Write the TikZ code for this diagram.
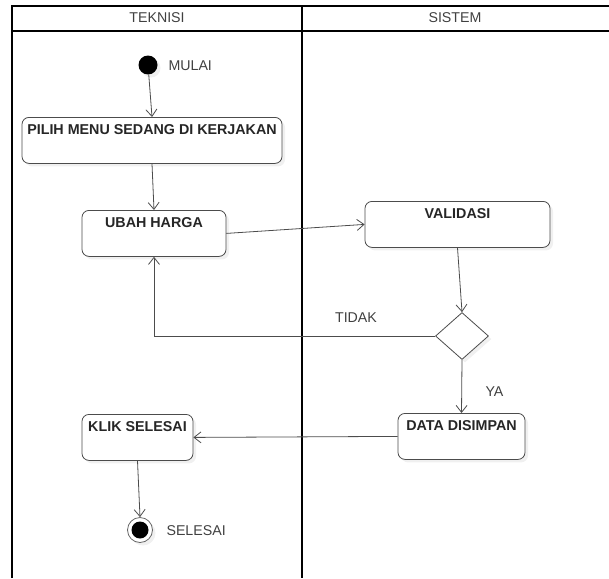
\documentclass[tikz,border=0pt]{standalone}
\usepackage{fontspec}
\setmainfont{Liberation Sans}
\usetikzlibrary{arrows.meta,shapes.geometric,shadows}
\tikzset{
  lane/.style={line width=1.8pt,black},
  actbox/.style={draw=black!70,fill=white,rounded corners=7pt,line width=0.8pt,
    font=\fontsize{14.3}{15}\selectfont\bfseries,text=black!85,
    inner xsep=2pt,inner ysep=5pt,text height=12pt,text depth=24pt,
    drop shadow={opacity=0.12,shadow xshift=3pt,shadow yshift=-3pt}},
  lbl/.style={font=\fontsize{14.2}{15}\selectfont,text=black!75},
  flow/.style={draw=black!70,line width=0.8pt,-{Straight Barb[length=7pt,width=11pt]}}
}
\begin{document}
\begin{tikzpicture}[x=1pt,y=-1pt]
  \useasboundingbox (0,0) rectangle (609,578);
  % swimlane
  \draw[lane] (12,578)--(12,6)--(609,6);
  \draw[lane] (12,31)--(609,31);
  \draw[lane] (302,6)--(302,578);
  \node[lbl] (teknisi) at (157,18) {TEKNISI};
  \node[lbl] (sistem) at (455,18) {SISTEM};
  % aktivitas
  \node[circle,fill=black,inner sep=0pt,minimum size=19pt,
        drop shadow={opacity=0.12,shadow xshift=3pt,shadow yshift=-3pt}] (mulai) at (148,65) {};
  \node[lbl,anchor=west] (tmulai) at (165,66) {MULAI};
  \node[actbox,minimum width=260pt,anchor=north] (pilih) at (152,117) {PILIH MENU SEDANG DI KERJAKAN};
  \node[actbox,minimum width=144pt,anchor=north] (ubah) at (154,210) {UBAH HARGA};
  \node[actbox,minimum width=185pt,anchor=north] (validasi) at (457.5,201) {VALIDASI};
  \node[draw=black!70,fill=white,line width=0.8pt,diamond,inner sep=0pt,minimum width=53pt,minimum height=47pt,
        drop shadow={opacity=0.12,shadow xshift=3pt,shadow yshift=-3pt}] (cek) at (462,336) {};
  \node[actbox,minimum width=127pt,anchor=north] (simpan) at (461.5,413) {DATA DISIMPAN};
  \node[actbox,minimum width=111pt,anchor=north] (klik) at (137.5,414) {KLIK SELESAI};
  \node[circle,draw=black!60,fill=white,line width=0.8pt,inner sep=0pt,minimum size=25pt,
        drop shadow={opacity=0.12,shadow xshift=3pt,shadow yshift=-3pt}] (selesai) at (140,530) {};
  \fill (selesai) circle (8.5pt);
  \node[lbl,anchor=west] (tselesai) at (163,531) {SELESAI};
  % alur
  \draw[flow] (mulai)--(pilih.north);
  \draw[flow] (pilih.south)--(ubah.north);
  \draw[flow] (ubah.east)--(validasi.west);
  \draw[flow] (validasi.south)--(cek.north);
  \draw[flow] (cek.west)-|(ubah.south);
  \node[lbl] (tidak) at (356,318) {TIDAK};
  \draw[flow] (cek.south)--(simpan.north);
  \node[lbl,anchor=west] (ya) at (482,392) {YA};
  \draw[flow] (simpan.west)--(klik.east);
  \draw[flow] (klik.south)--(selesai.north);
\end{tikzpicture}
\end{document}
